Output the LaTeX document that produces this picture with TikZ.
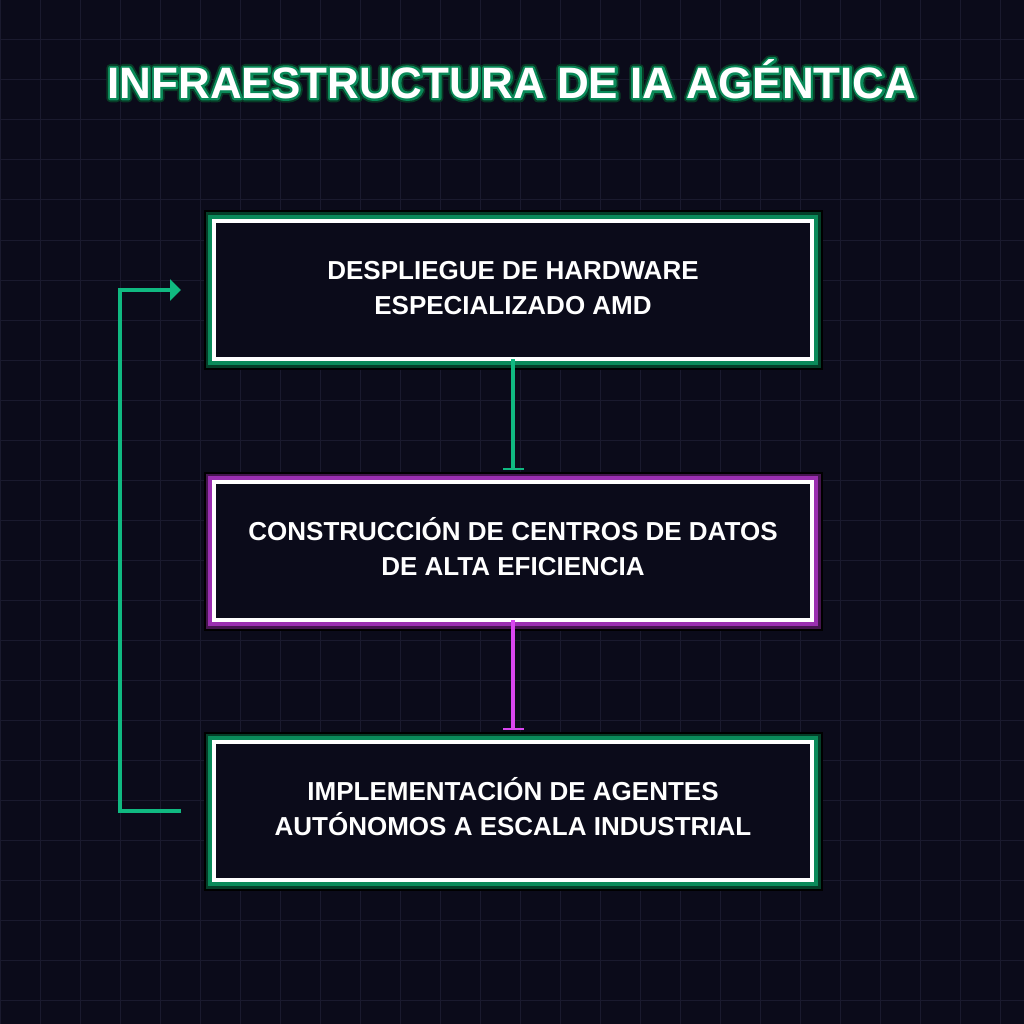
\documentclass[tikz,border=0pt]{standalone}
\usepackage{fontspec}
\setmainfont{Liberation Sans}
\usetikzlibrary{positioning,arrows.meta}
\definecolor{bgdark}{HTML}{0B0B1A}
\definecolor{gridc}{HTML}{1A1A2E}
\definecolor{emerald}{HTML}{10B981}
\definecolor{fuchsia}{HTML}{D946EF}
\definecolor{glowgreen}{HTML}{0A8A5A}
\definecolor{glowpurple}{HTML}{9A2FB0}
\newcommand{\titletext}{INFRAESTRUCTURA DE IA AGÉNTICA}
% outlined copy of a text: #1 = stroke width, #2 = rgb stroke colour
\newcommand{\outlined}[2]{\rlap{\special{pdf:code q 1 Tr #1 w 1 j #2 RG}\titletext\special{pdf:code Q}}}

\begin{document}
\begin{tikzpicture}[x=1pt, y=-1pt, node distance=122pt,
  stage/.style={draw=white, line width=4pt, fill=bgdark, minimum width=598pt, minimum height=138pt,
    outer sep=0pt, inner sep=0pt, align=center, text=white, font=\bfseries\fontsize{26}{35}\selectfont,
    text height=53.5pt, text depth=5pt,
    preaction={draw=black, line width=21pt}, preaction={draw=#1!45!black, line width=17pt},
    preaction={draw=#1, line width=12pt}},
  titlefont/.style={font=\bfseries\fontsize{44}{50}\selectfont, inner sep=0pt},
  flow/.style={line width=4pt, -{Bar[width=21pt, line width=2pt]}, shorten >=12pt},
  back/.style={line width=4pt, draw=emerald, -{Triangle[length=11pt, width=21pt]}, shorten <=33pt, shorten >=33pt},
  gridline/.style={draw=gridc, line width=1pt}]
\useasboundingbox (0,0) rectangle (1024,1024);
\fill[bgdark] (0,0) rectangle (1024,1024);
\foreach \g in {0,40,...,1000} {\draw[gridline] (\g,0) -- (\g,1024); \draw[gridline] (0,\g) -- (1024,\g);}
% title with glow
\node[titlefont, text=white] (title) at (512,79)
  {\outlined{8}{0.03 0.23 0.15}\outlined{4.4}{0.04 0.54 0.35}\titletext};
% stages
\node[stage=glowgreen] (hw) at (513,290) {DESPLIEGUE DE HARDWARE\\ESPECIALIZADO AMD};
\node[stage=glowpurple, below=123pt of hw] (dc) {CONSTRUCCIÓN DE CENTROS DE DATOS\\DE ALTA EFICIENCIA};
\node[stage=glowgreen, below=of dc] (ag) {IMPLEMENTACIÓN DE AGENTES\\AUTÓNOMOS A ESCALA INDUSTRIAL};
\draw[flow, draw=emerald] (hw) -- (dc); \draw[flow, draw=fuchsia] (dc) -- (ag);
\draw[back] (ag.west) -- ++(-94pt,0) |- (hw.west);
\end{tikzpicture}
\end{document}
